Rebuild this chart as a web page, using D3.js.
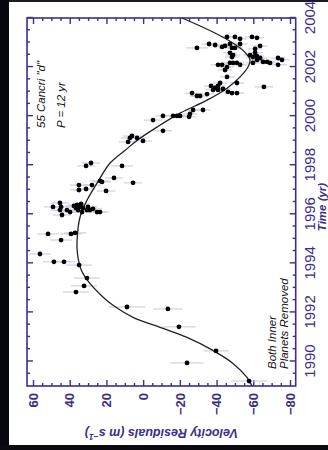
<!DOCTYPE html>
<html><head><meta charset="utf-8">
<script src="https://cdn.jsdelivr.net/npm/d3@7"></script>
<style>
html,body{margin:0;padding:0;background:#fff;}
svg{display:block;}
</style></head>
<body>
<svg id="chart" width="328" height="450"></svg>
<script>
// Residual radial velocities of 55 Cancri after removing the two inner planets
const obsYear = [
  1989.20, 1989.94, 1990.43, 1991.41, 1992.14, 1992.22,
  1992.83, 1993.08, 1993.40, 1993.93, 1994.06, 1994.06, 1994.38, 1994.95, 1995.20, 1995.20, 1995.24,
  1995.97, 1996.09, 1996.09, 1996.09, 1996.09, 1996.17, 1996.17, 1996.17, 1996.17, 1996.17, 1996.22,
  1996.26, 1996.26, 1996.30, 1996.30, 1996.30, 1996.30, 1996.34, 1996.38, 1996.42, 1996.46,
  1996.95, 1996.99, 1997.03, 1997.19, 1997.19, 1997.28, 1997.32, 1997.36, 1997.48, 1997.97, 1997.97, 1998.09,
  1998.95, 1998.99, 1999.11, 1999.11, 1999.19, 1999.40, 1999.84,
  1999.97, 2000.01, 2000.01, 2000.01, 2000.01, 2000.09, 2000.25, 2000.25,
  2000.82, 2000.82, 2000.90, 2000.94, 2000.94, 2000.94, 2000.99, 2001.07, 2001.07, 2001.11, 2001.15,
  2001.19, 2001.23, 2001.23, 2001.35, 2001.35, 2001.60, 2001.88,
  2002.00, 2002.09, 2002.09, 2002.09, 2002.09, 2002.17, 2002.17, 2002.17, 2002.17, 2002.17,
  2002.21, 2002.21, 2002.29, 2002.29, 2002.37, 2002.37, 2002.41, 2002.41, 2002.45, 2002.49, 2002.49,
  2002.58, 2002.58, 2002.74, 2002.78, 2002.78, 2002.78, 2002.82, 2002.86, 2002.86, 2002.90,
  2002.94, 2002.94, 2002.94, 2003.15, 2003.19, 2003.23, 2003.23, 2003.23
];
const obsVel = [
  -57.7, -23.9, -39.7, -19.5, -13.5, 8.8,
  36.6, 32.2, 30.6, 34.9, 48.6, 43.1, 56.2, 44.7, 51.8, 39.3, 37.1,
  44.2, 39.8, 25.1, 23.5, 33.3, 45.3, 41.5, 30.6, 29.0, 35.5, 27.3,
  32.8, 36.6, 49.1, 44.7, 34.4, 30.0, 37.7, 36.0, 33.8, 45.3,
  20.2, 35.0, 31.1, 35.0, 27.9, 5.5, 22.4, 23.5, 15.9, 31.1, 11.5, 28.4,
  8.2, 0.1, 7.2, 3.3, 6.1, -10.8, -5.4,
  -25.0, -10.8, -16.3, -18.4, -20.1, -25.5, -27.2, -32.6,
  -31.0, -29.3, -34.8, -26.6, -48.4, -51.1, -46.2, -40.8, -38.1, -43.5, -39.2,
  -65.8, -37.0, -40.8, -41.9, -51.1, -45.7, -44.6,
  -45.7, -40.8, -43.0, -52.8, -73.5, -47.3, -49.0, -51.1, -69.1, -59.8,
  -65.3, -67.5, -62.0, -75.6, -63.7, -73.5, -59.8, -48.4, -62.0, -58.2, -49.0,
  -61.0, -47.3, -61.0, -48.4, -50.0, -29.3, -43.0, -63.7, -44.6, -39.2,
  -52.8, -47.3, -35.9, -52.8, -62.0, -59.3, -45.7, -50.0
];
const obsErr = [
  10, 9, 7, 9, 8, 10,
  7, 7, 7, 7, 6, 6, 6, 6, 6, 6, 6,
  5, 5, 5, 5, 5, 5, 5, 5, 5, 5, 5,
  5, 5, 5, 5, 5, 5, 5, 5, 5, 5,
  5, 5, 5, 5, 5, 5, 5, 5, 5, 5, 6, 5,
  5, 5, 5, 5, 5, 5, 5,
  4, 4, 4, 4, 4, 4, 4, 4,
  4, 4, 4, 4, 4, 4, 4, 4, 4, 4, 4,
  5, 4, 4, 4, 4, 4, 4,
  4, 4, 4, 4, 5, 4, 4, 4, 4, 4,
  4, 4, 4, 4, 4, 4, 4, 4, 4, 4, 4,
  4, 4, 4, 4, 4, 6, 4, 4, 4, 4,
  4, 4, 4, 4, 4, 4, 4, 4
];

// Keplerian fit for the outer companion
const fitYear = [1989.0, 1989.35, 1989.92, 1990.45, 1990.98, 1991.39, 1991.8, 1992.29, 1992.6,
  1993.18, 1993.71, 1994.4, 1994.94, 1995.88, 1996.57, 1997.27, 1998.08, 1998.61, 1999.0,
  1999.55, 2000.12, 2000.65, 2001.14, 2001.59, 2002.0, 2002.3, 2002.6, 2002.98, 2003.43, 2004.0];
const fitVel = [-59.3, -56.6, -48.9, -38.0, -23.9, -9.2, 5.5, 16.4, 21.5,
  29.0, 33.6, 35.8, 36.0, 34.4, 30.6, 25.1, 18.1, 9.8, 3.5,
  -7.5, -20.1, -34.8, -45.7, -52.7, -57.1, -58.2, -55.5, -48.9, -38.0, -21.2];

const yearTicks = [1990, 1992, 1994, 1996, 1998, 2000, 2002, 2004];
const velTicks = [60, 40, 20, 0, -20, -40, -60, -80];
const topNote = ['55 Cancri "d"', 'P = 12 yr'];
const bottomNote = ['Both Inner', 'Planets Removed'];

const ink = '#3d2d8c';
const svg = d3.select('#chart');

// dark scanned-page edges
svg.append('rect').attr('x', 0).attr('y', 0).attr('width', 328).attr('height', 2).attr('fill', '#1a1a22');
svg.append('rect').attr('x', 0).attr('y', 0).attr('width', 9).attr('height', 450).attr('fill', '#07070e');
svg.append('rect').attr('x', 0).attr('y', 445).attr('width', 328).attr('height', 5).attr('fill', '#0a0a10');

// plot is drawn in its native orientation, then turned a quarter turn counter-clockwise
const W = 368, H = 268.7;
const g = svg.append('g').attr('transform', 'translate(27,386) rotate(-90)');

const x = d3.scaleLinear().domain([1989, 2004]).range([0, W]);
const y = d3.scaleLinear().domain([-83.1, 63.27]).range([H, 0]);

const minorYears = d3.range(1989.5, 2004, 0.5).filter(v => Math.abs(v - Math.round(v / 2) * 2) > 0.01);
const minorVel = d3.range(-80, 61, 5).filter(v => v % 20 !== 0);

function styleAxis(sel) {
  sel.select('.domain').remove();
  sel.selectAll('line').attr('stroke', ink).attr('stroke-width', 1.4);
  sel.selectAll('text').attr('fill', ink);
}

// time axis (bottom) with labels
g.append('g').attr('transform', `translate(0,${H})`)
  .call(d3.axisBottom(x).tickValues(yearTicks).tickFormat(d3.format('d')).tickSize(-6).tickSizeOuter(0).tickPadding(9))
  .call(styleAxis)
  .call(s => s.selectAll('text').attr('font-family', 'Liberation Sans, Arial, sans-serif').attr('font-size', 15));
g.append('g').attr('transform', `translate(0,${H})`)
  .call(d3.axisBottom(x).tickValues(minorYears).tickFormat('').tickSize(-3).tickSizeOuter(0))
  .call(styleAxis);
// mirrored time ticks (top)
g.append('g').call(d3.axisTop(x).tickValues(yearTicks).tickFormat('').tickSize(-6).tickSizeOuter(0)).call(styleAxis);
g.append('g').call(d3.axisTop(x).tickValues(minorYears).tickFormat('').tickSize(-3).tickSizeOuter(0)).call(styleAxis);

// velocity axis (left) with labels
g.append('g')
  .call(d3.axisLeft(y).tickValues(velTicks).tickFormat(d => d < 0 ? '\u2212' + Math.abs(d) : d).tickSize(-6).tickSizeOuter(0).tickPadding(7))
  .call(styleAxis)
  .call(s => s.selectAll('text').attr('font-family', 'Liberation Sans, Arial, sans-serif').attr('font-size', 13).attr('font-weight', 'bold'));
g.append('g').call(d3.axisLeft(y).tickValues(minorVel).tickFormat('').tickSize(-3).tickSizeOuter(0)).call(styleAxis);
// mirrored velocity ticks (right)
g.append('g').attr('transform', `translate(${W},0)`)
  .call(d3.axisRight(y).tickValues(velTicks).tickFormat('').tickSize(-6).tickSizeOuter(0)).call(styleAxis);
g.append('g').attr('transform', `translate(${W},0)`)
  .call(d3.axisRight(y).tickValues(minorVel).tickFormat('').tickSize(-3).tickSizeOuter(0)).call(styleAxis);

// frame
g.append('rect').attr('x', 0).attr('y', 0).attr('width', W).attr('height', H)
  .attr('fill', 'none').attr('stroke', ink).attr('stroke-width', 1.6);

// axis titles
g.append('text').attr('x', 179).attr('y', H + 30.5).attr('text-anchor', 'middle')
  .attr('font-family', 'Liberation Sans, Arial, sans-serif').attr('font-size', 11.5)
  .attr('font-weight', 'bold').attr('font-style', 'italic').attr('fill', ink).text('Time (yr)');
const vt = g.append('text').attr('transform', `translate(-43,${H / 2}) rotate(-90)`).attr('text-anchor', 'middle')
  .attr('font-family', 'Liberation Sans, Arial, sans-serif').attr('font-size', 12.5)
  .attr('font-weight', 'bold').attr('font-style', 'italic').attr('fill', ink);
vt.append('tspan').text('Velocity Residuals  (m s');
vt.append('tspan').attr('dy', -5).attr('font-size', 8.5).text('\u22121');
vt.append('tspan').attr('dy', 5).text(')');

// error bars
const data = obsYear.map((t, i) => ({t, v: obsVel[i], e: obsErr[i]}));
g.append('g').selectAll('line').data(data).join('line')
  .attr('x1', d => x(d.t)).attr('x2', d => x(d.t))
  .attr('y1', d => y(d.v - d.e)).attr('y2', d => y(d.v + d.e))
  .attr('stroke', '#cbc4da').attr('stroke-width', 1);

// fitted curve
const fit = fitYear.map((t, i) => [t, fitVel[i]]);
g.append('path').datum(fit)
  .attr('d', d3.line().x(d => x(d[0])).y(d => y(d[1])).curve(d3.curveCatmullRom.alpha(0.5)))
  .attr('fill', 'none').attr('stroke', '#222').attr('stroke-width', 1.3);

// observations
g.append('g').selectAll('circle').data(data).join('circle')
  .attr('cx', d => x(d.t)).attr('cy', d => y(d.v)).attr('r', 2.4).attr('fill', '#000');

// annotations
const noteFont = 'Liberation Sans, Arial, sans-serif';
g.append('text').attr('x', 258).attr('y', 18).attr('font-family', noteFont).attr('font-size', 11.5)
  .attr('font-style', 'italic').attr('fill', '#111').text(topNote[0]);
g.append('text').attr('x', 258).attr('y', 38).attr('font-family', noteFont).attr('font-size', 11.5)
  .attr('font-style', 'italic').attr('fill', '#111').text(topNote[1]);
g.append('text').attr('x', 17).attr('y', 249).attr('font-family', noteFont).attr('font-size', 11.5)
  .attr('font-style', 'italic').attr('fill', '#111').text(bottomNote[0]);
g.append('text').attr('x', 17).attr('y', 261).attr('font-family', noteFont).attr('font-size', 11.5)
  .attr('font-style', 'italic').attr('fill', '#111').text(bottomNote[1]);
</script>
</body></html>
